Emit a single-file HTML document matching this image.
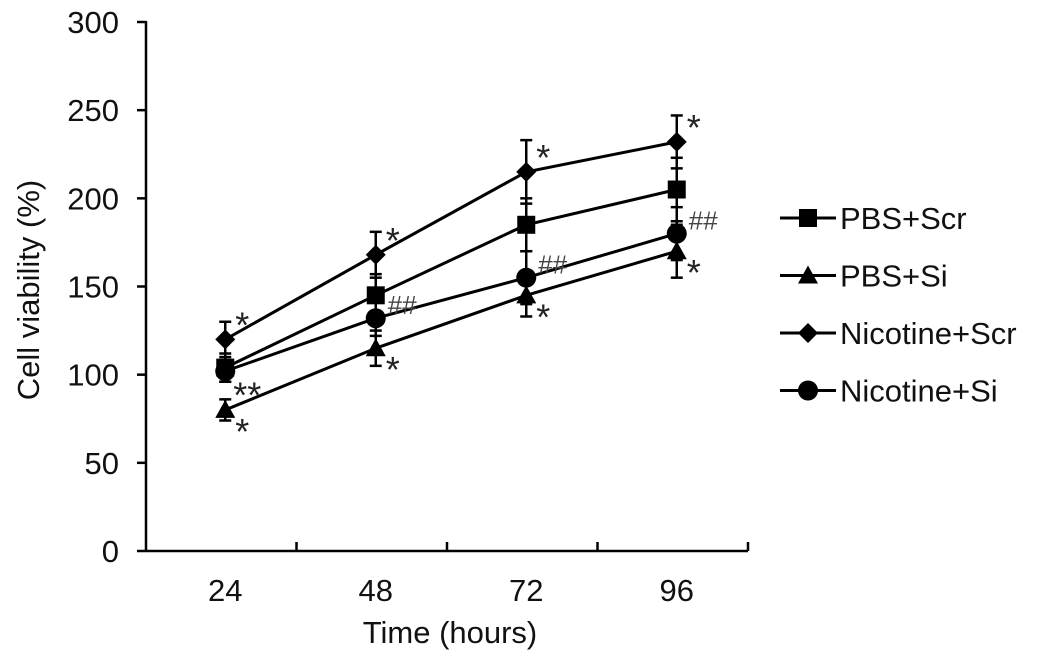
<!DOCTYPE html>
<html><head><meta charset="utf-8"><style>
body{margin:0;background:#fff;}
svg{display:block;font-family:"Liberation Sans",Arial,sans-serif;}
</style></head><body>
<svg id="chart" width="1053" height="661" viewBox="0 0 1053 661"></svg>
<script>
const categories=["24","48","72","96"];
const yTicks=[0,50,100,150,200,250,300];
const seriesNames=["PBS+Scr","PBS+Si","Nicotine+Scr","Nicotine+Si"];
const seriesMarkers=["square","triangle","diamond","circle"];
const pbsScr=[104,145,185,205];
const pbsSi=[80,115,145,170];
const nicScr=[120,168,215,232];
const nicSi=[102,132,155,180];
const pbsScrErr=[8,12,15,18];
const pbsSiErr=[6,10,12,15];
const nicScrErr=[10,13,18,15];
const nicSiErr=[6,10,15,15];
const annotations=[["**","","",""],["*","*","*","*"],["*","*","*","*"],["","##","##","##"]];

const NS="http://www.w3.org/2000/svg";
const svg=document.getElementById('chart');
const X0=146,X1=748,Y0=551,Y300=22;
const bw=(X1-X0)/categories.length;
const xs=i=>X0+bw*(i+0.5)+4;
const ys=v=>Y0-(v/300)*(Y0-Y300);
const FS=31;
function mk(tag,attrs,parent){const e=document.createElementNS(NS,tag);for(const k in attrs)e.setAttribute(k,attrs[k]);(parent||svg).appendChild(e);return e;}

const axes=mk('g',{});


mk('line',{x1:X0,y1:Y300-1,x2:X0,y2:Y0+1,stroke:'#000','stroke-width':2.5},axes);
mk('line',{x1:X0,y1:Y0,x2:X1,y2:Y0,stroke:'#000','stroke-width':2.5},axes);
yTicks.forEach(t=>{
  mk('line',{x1:X0-9,y1:ys(t),x2:X0,y2:ys(t),stroke:'#000','stroke-width':2.5},axes);
  const tx=mk('text',{x:X0-27,y:ys(t)+11,'text-anchor':'end','font-size':FS,fill:'#111'},axes);
  tx.textContent=t;
  
  
});
for(let i=1;i<=categories.length;i++){
  mk('line',{x1:X0+bw*i,y1:Y0-9,x2:X0+bw*i,y2:Y0,stroke:'#000','stroke-width':2.5},axes);
}
categories.forEach((c,i)=>{
  const tx=mk('text',{x:xs(i),y:Y0+50,'text-anchor':'middle','font-size':FS,fill:'#111'},axes);
  tx.textContent=c;
  
  
});
const xt=mk('text',{x:450,y:643,'text-anchor':'middle','font-size':FS,fill:'#111'});
xt.textContent='Time (hours)';


const yt=mk('text',{x:0,y:0,'text-anchor':'middle','font-size':FS,fill:'#111',transform:'translate(39,290) rotate(-90)'});
yt.textContent='Cell viability (%)';



function marker(type,x,y,g){
  if(type==='square')mk('rect',{x:x-9,y:y-9,width:18,height:18,fill:'#000'},g);
  else if(type==='triangle')mk('polygon',{points:`${x},${y-10} ${x+10},${y+8} ${x-10},${y+8}`,fill:'#000'},g);
  else if(type==='diamond')mk('polygon',{points:`${x},${y-10} ${x+10},${y} ${x},${y+10} ${x-10},${y}`,fill:'#000'},g);
  else mk('circle',{cx:x,cy:y,r:10,fill:'#000'},g);
}
const allData=[pbsScr,pbsSi,nicScr,nicSi];
const allErr=[pbsScrErr,pbsSiErr,nicScrErr,nicSiErr];
allData.forEach((d,s)=>{
  const g=mk('g',{});
  
  
  mk('polyline',{points:d.map((v,i)=>xs(i)+','+ys(v)).join(' '),fill:'none',stroke:'#000','stroke-width':3},g);
  d.forEach((v,i)=>{
    const e=allErr[s][i];
    const x=xs(i);
    mk('line',{x1:x,y1:ys(v+e),x2:x,y2:ys(v-e),stroke:'#000','stroke-width':2.5},g);
    mk('line',{x1:x-6,y1:ys(v+e),x2:x+6,y2:ys(v+e),stroke:'#000','stroke-width':2.5},g);
    mk('line',{x1:x-6,y1:ys(v-e),x2:x+6,y2:ys(v-e),stroke:'#000','stroke-width':2.5},g);
    marker(seriesMarkers[s],x,ys(v),g);
  });
});
allData.forEach((d,s)=>{
  d.forEach((v,i)=>{
    const a=annotations[s][i];
    if(!a)return;
    const x=xs(i);
    let tx=x+10,ty;
    if(a==='##'){ty=ys(v)-4;tx=x+12;}
    else if(a==='**'){ty=ys(v)+40;tx=x+8;}
    else if(s===2){ty=ys(v)-2;}
    else {ty=ys(v)+34;}
    const t=mk('text',{x:tx,y:ty,'font-size':a==='##'?26:36,fill:a==='##'?'#444':'#222'});
    t.textContent=a;
    
    
  });
});
const lg=mk('g',{});


seriesNames.forEach((n,i)=>{
  const y=218+i*57.5;
  const e=mk('g',{},lg);
  
  
  mk('line',{x1:780,y1:y,x2:836,y2:y,stroke:'#000','stroke-width':3},e);
  marker(seriesMarkers[i],808,y,e);
  const t=mk('text',{x:840,y:y+11,'font-size':FS,fill:'#111'},e);
  t.textContent=n;
});
</script>
</body></html>
